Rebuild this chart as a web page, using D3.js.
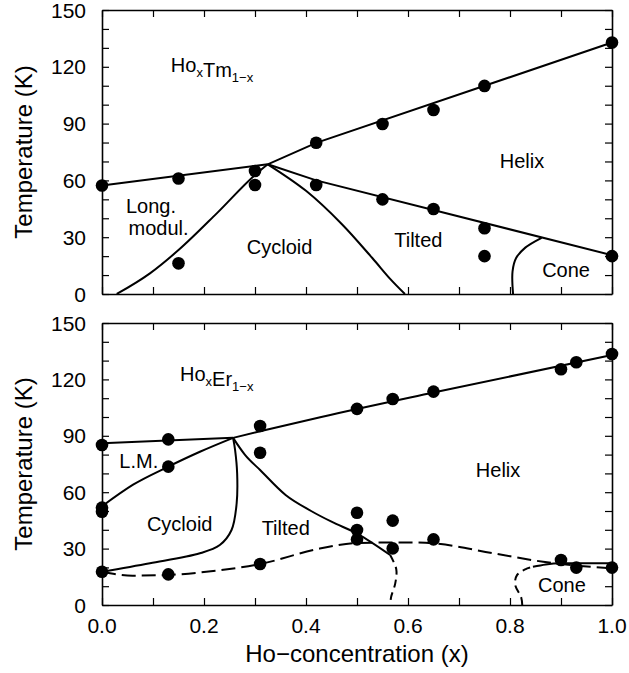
<!DOCTYPE html>
<html>
<head>
<meta charset="utf-8">
<script src="https://cdn.jsdelivr.net/npm/d3@7"></script>
<style>
  html, body { margin: 0; padding: 0; background: #fff; }
  svg text { font-family: "Liberation Sans", Arial, Helvetica, sans-serif; fill: #000; }
</style>
</head>
<body>
<svg id="chart" width="629" height="673"></svg>
<script>
// ---------- data ----------
const xTickValues = [0, 0.2, 0.4, 0.6, 0.8, 1.0];
const xTickLabels = ["0.0", "0.2", "0.4", "0.6", "0.8", "1.0"];
const yTickValues = [0, 30, 60, 90, 120, 150];
const yTickLabels = ["0", "30", "60", "90", "120", "150"];

// Ho(x)Tm(1-x) measured points [x, T]
const tmDots = [[0,57.3],[0.15,61],[0.30,65],[0.30,57.6],[0.15,16.2],[0.42,79.9],[0.55,89.8],[0.65,97.2],
  [0.75,109.9],[1.0,132.8],[0.42,57.6],[0.55,50],[0.65,44.9],[0.75,34.7],[0.75,20],[1.0,20]];
// Ho(x)Tm(1-x) phase boundaries
const tmUpper = [[0,57.3],[0.325,68.5],[0.42,79.8],[1.0,132.8]];
const tmTiltedHelix = [[0.325,68.5],[0.42,60],[1.0,20.5]];
const tmLongMod = [[0.029,0],[0.094,10.9],[0.15,23.2],[0.225,42.6],[0.3,62.9],[0.325,68.5]];
const tmCycloidTilted = [[0.325,68.5],[0.40,54.5],[0.47,37],[0.53,19],[0.565,8],[0.594,0]];
const tmCone = [[0.806,0],[0.805,12],[0.812,19],[0.83,24.5],[0.862,29.7]];

// Ho(x)Er(1-x) measured points [x, T]
const erDots = [[0,85.1],[0.13,88.1],[0.13,73.6],[0,51.8],[0,49.6],[0,17.7],[0.13,16.3],[0.31,95.2],[0.31,81],
  [0.31,21.8],[0.5,104.3],[0.57,109.6],[0.65,113.5],[0.9,125.4],[0.93,129.1],[1.0,133.5],
  [0.5,49.1],[0.5,39.9],[0.5,34.9],[0.57,44.9],[0.57,30.1],[0.65,34.9],[0.9,23.9],[0.93,19.9],[1.0,19.9]];
// Ho(x)Er(1-x) phase boundaries
const erUpperLeft = [[0,86],[0.257,88.9]];
const erUpperRight = [[0.257,88.9],[0.31,92.4],[0.43,100],[0.65,113],[1.0,133]];
const erLM = [[0,52.5],[0.061,64],[0.13,73.6],[0.192,81.5],[0.257,88.9]];
const erCycloid = [[0,17.7],[0.094,22.2],[0.192,27.5],[0.231,31.9],[0.254,39.9],[0.264,54],[0.265,70],[0.261,82.4],[0.257,88.9]];
const erTilted = [[0.257,88.9],[0.28,80],[0.31,71.8],[0.36,58.5],[0.41,50],[0.45,44.3],[0.5,38],[0.565,26.6]];
const erTiltedDash = [[0.565,26.6],[0.577,19],[0.575,11.5],[0.567,4.4],[0.565,0]];
const erLowerDash = [[0,17.7],[0.06,15.6],[0.13,16],[0.225,18.3],[0.31,21.8],[0.427,30],[0.5,33],[0.6,33.3],
  [0.65,32.8],[0.767,27.5],[0.865,23],[0.9,21.8],[1.0,19.5]];
const erConeDash = [[0.824,0],[0.822,4],[0.81,11],[0.814,16],[0.83,19],[0.845,20.3]];
const erCone = [[0.845,20.3],[0.87,21.6],[0.9,22.2],[1.0,22.2]];

// region labels [text, x, T]
const tmLabels = [["Long.",0.047,42.8],["modul.",0.052,31.2],["Cycloid",0.284,21.1],["Tilted",0.573,25],["Helix",0.78,66.4],["Cone",0.863,9.1]];
const erLabels = [["L.M.",0.034,72.8],["Cycloid",0.088,39.6],["Tilted",0.313,37.4],["Helix",0.733,68.3],["Cone",0.855,6.7]];
const tmFormula = [["Ho","x"],["Tm","1\u2212x"]];
const erFormula = [["Ho","x"],["Er","1\u2212x"]];
const tmFormulaPos = [0.135, 117.4];
const erFormulaPos = [0.153, 119.3];

const yTitle = "Temperature (K)";
const xTitle = "Ho\u2212concentration (x)";

// ---------- drawing ----------
const svg = d3.select("#chart");
const left = 102, right = 612;
const x = d3.scaleLinear().domain([0, 1]).range([left, right]);
const panels = [
  { top: 10, bottom: 294, showX: false, dots: tmDots, formula: tmFormula, fpos: tmFormulaPos, labels: tmLabels,
    solid: [[tmUpper, d3.curveLinear], [tmTiltedHelix, d3.curveLinear], [tmLongMod, d3.curveMonotoneX],
            [tmCycloidTilted, d3.curveCatmullRom], [tmCone, d3.curveCatmullRom]],
    dashed: [] },
  { top: 323, bottom: 605, showX: true, dots: erDots, formula: erFormula, fpos: erFormulaPos, labels: erLabels,
    solid: [[erUpperLeft, d3.curveLinear], [erUpperRight, d3.curveMonotoneX], [erLM, d3.curveMonotoneX],
            [erCycloid, d3.curveCatmullRom], [erTilted, d3.curveMonotoneX], [erCone, d3.curveMonotoneX]],
    dashed: [[erLowerDash, d3.curveMonotoneX, "14,6"], [erTiltedDash, d3.curveCatmullRom, "8,5"],
             [erConeDash, d3.curveCatmullRom, "8,5"]] }
];

const tickLen = 7;
const fmtFrac = d3.range(0, 1.0001, 0.1);
const fmtT = d3.range(0, 150.001, 10);

panels.forEach(p => {
  const y = d3.scaleLinear().domain([0, 150]).range([p.bottom, p.top]);
  const g = svg.append("g");

  // axes with inward ticks (all four sides)
  g.append("g").attr("transform", `translate(0,${p.bottom})`)
    .call(d3.axisBottom(x).tickValues(fmtFrac).tickSize(-tickLen).tickSizeOuter(0).tickFormat(""));
  g.append("g").attr("transform", `translate(0,${p.top})`)
    .call(d3.axisTop(x).tickValues(fmtFrac).tickSize(-tickLen).tickSizeOuter(0).tickFormat(""));
  g.append("g").attr("transform", `translate(${left},0)`)
    .call(d3.axisLeft(y).tickValues(fmtT).tickSize(-tickLen).tickSizeOuter(0).tickFormat(""));
  g.append("g").attr("transform", `translate(${right},0)`)
    .call(d3.axisRight(y).tickValues(fmtT).tickSize(-tickLen).tickSizeOuter(0).tickFormat(""));
  g.selectAll(".domain").attr("stroke", "#000").attr("stroke-width", 1.6);
  g.selectAll(".tick line").attr("stroke", "#000").attr("stroke-width", 1.2);

  // y tick labels
  g.selectAll(".ylab").data(yTickValues).enter().append("text")
    .attr("x", 86).attr("y", d => y(d)).attr("dy", "0.36em")
    .attr("text-anchor", "end").attr("font-size", 21)
    .text((d, i) => yTickLabels[i]);

  if (p.showX) {
    g.selectAll(".xlab").data(xTickValues).enter().append("text")
      .attr("x", d => x(d)).attr("y", 633)
      .attr("text-anchor", "middle").attr("font-size", 21)
      .text((d, i) => xTickLabels[i]);
  }

  // y title
  g.append("text")
    .attr("transform", `translate(32,${(p.top + p.bottom) / 2}) rotate(-90)`)
    .attr("text-anchor", "middle").attr("font-size", 24)
    .text(yTitle);

  // boundaries
  p.solid.forEach(([pts, curve]) => {
    g.append("path").datum(pts)
      .attr("d", d3.line().x(d => x(d[0])).y(d => y(d[1])).curve(curve))
      .attr("fill", "none").attr("stroke", "#000").attr("stroke-width", 2);
  });
  p.dashed.forEach(([pts, curve, dash]) => {
    g.append("path").datum(pts)
      .attr("d", d3.line().x(d => x(d[0])).y(d => y(d[1])).curve(curve))
      .attr("fill", "none").attr("stroke", "#000").attr("stroke-width", 2)
      .attr("stroke-dasharray", dash);
  });

  // dots
  g.selectAll(".dot").data(p.dots).enter().append("circle")
    .attr("cx", d => x(d[0])).attr("cy", d => y(d[1])).attr("r", 6.3).attr("fill", "#000");

  // region labels
  g.selectAll(".rlab").data(p.labels).enter().append("text")
    .attr("x", d => x(d[1])).attr("y", d => y(d[2]))
    .attr("font-size", 20).text(d => d[0]);

  // formula
  const ft = g.append("text").attr("x", x(p.fpos[0])).attr("y", y(p.fpos[1])).attr("font-size", 20);
  p.formula.forEach(([el, sub]) => {
    ft.append("tspan").attr("dy", 0).text(el);
    ft.append("tspan").attr("font-size", 13).attr("dy", 5).text(sub);
    ft.append("tspan").attr("font-size", 20).attr("dy", -5).text("");
  });
});

// x title
svg.append("text").attr("x", (left + right) / 2).attr("y", 662)
  .attr("text-anchor", "middle").attr("font-size", 24).text(xTitle);
</script>
</body>
</html>
